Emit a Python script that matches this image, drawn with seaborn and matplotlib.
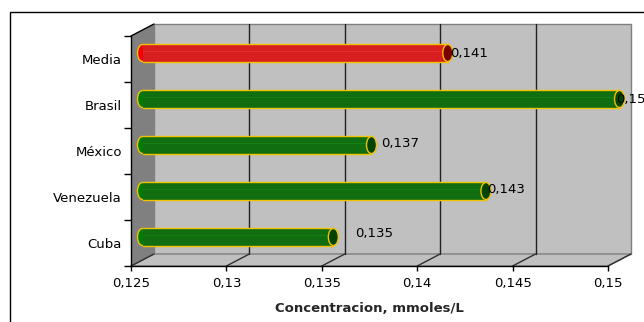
import numpy as np
import pandas as pd
import matplotlib
matplotlib.use("Agg")
import matplotlib.pyplot as plt
from matplotlib.patches import Polygon, Ellipse, Rectangle
import seaborn as sns

# datos
paises = ["Media", "Brasil", "México", "Venezuela", "Cuba"]
concentracion = [0.141, 0.150, 0.137, 0.143, 0.135]
etiquetas = ["0,141", "0,150", "0,137", "0,143", "0,135"]
ticks_x = [0.125, 0.13, 0.135, 0.14, 0.145, 0.15]
ticks_lbl = ["0,125", "0,13", "0,135", "0,14", "0,145", "0,15"]

colores = {"Media": "#f60000", "Brasil": "#007c00", "México": "#007c00",
           "Venezuela": "#007c00", "Cuba": "#007c00"}
tapas = {"Media": "#7a0000", "Brasil": "#004400", "México": "#004400",
         "Venezuela": "#004400", "Cuba": "#004400"}
brillo = {"Media": "#ff3a3a", "Brasil": "#159515", "México": "#159515",
          "Venezuela": "#159515", "Cuba": "#159515"}
# desplazamiento de las etiquetas de valor (px)
nudge_x = [2, -3, 10, 1, 22]
nudge_y = [0, 0, 1, 1, 4]

sns.set_style("ticks")
plt.rcParams["font.family"] = ["DejaVu Sans"]
plt.rcParams["font.size"] = 9.5
plt.rcParams["text.color"] = "black"
plt.rcParams["xtick.color"] = "black"
plt.rcParams["ytick.color"] = "black"

W, H = 644, 322
fig = plt.figure(figsize=(W / 100, H / 100), dpi=100)
ax = fig.add_axes([131 / W, (H - 266) / H, 477 / W, 230 / H])

df = pd.DataFrame({"pais": paises, "valor": concentracion})
sns.barplot(data=df, x="valor", y="pais", hue="pais", palette=colores,
            orient="h", width=0.37, legend=False, ax=ax, zorder=5)
barras = list(ax.patches)

xmin, xmax = ticks_x[0], ticks_x[-1]
ax.set_xlim(xmin, xmax)
ax.set_ylim(len(paises) - 0.5, -0.5)
ytop, ybot = -0.5, len(paises) - 0.5

# unidades de datos por pixel
sx = (xmax - xmin) / 477
sy = len(paises) / 230
dx, dy = 23 * sx, -12 * sy   # fondo
mx, my = dx / 2, dy / 2      # barras a media profundidad

wall = "#c0c0c0"
# pared del fondo
ax.add_patch(Polygon([(xmin + dx, ytop + dy), (xmax + dx, ytop + dy),
                      (xmax + dx, ybot + dy), (xmin + dx, ybot + dy)],
                     closed=True, facecolor=wall, edgecolor="#808080",
                     lw=1, zorder=1, clip_on=False))
# piso
ax.add_patch(Polygon([(xmin, ybot), (xmax, ybot), (xmax + dx, ybot + dy),
                      (xmin + dx, ybot + dy)], closed=True, facecolor=wall,
                     edgecolor="#808080", lw=1, zorder=1, clip_on=False))
# pared izquierda
ax.add_patch(Polygon([(xmin, ytop), (xmin + dx, ytop + dy),
                      (xmin + dx, ybot + dy), (xmin, ybot)], closed=True,
                     facecolor="#808080", edgecolor="none", zorder=1.5,
                     clip_on=False))
ax.plot([xmin, xmin + dx], [ytop, ytop + dy], color="black", lw=1,
        zorder=2, clip_on=False)

# rejilla
for t in ticks_x:
    if xmin < t < xmax:
        ax.plot([t + dx, t + dx], [ytop + dy, ybot + dy], color="#202020",
                lw=1, zorder=2, clip_on=False)
    ax.plot([t, t + dx], [ybot, ybot + dy], color="#303030", lw=1,
            zorder=2, clip_on=False)

# barras cilindricas
gold = "#f2c200"
ew = 10 * sx
for p in barras:
    yc = p.get_y() + p.get_height() / 2
    i = int(round(yc))
    v = concentracion[i]
    name = paises[i]
    h = p.get_height()
    p.set_x(xmin + mx)
    p.set_width(v - xmin)
    p.set_y(yc - h / 2 + my)
    p.set_edgecolor("none")
    p.set_clip_on(False)
    ax.add_patch(Ellipse((xmin + mx, yc + my), ew, h, facecolor=colores[name],
                         edgecolor=gold, lw=1, zorder=4, clip_on=False))
    ax.plot([xmin + mx, v + mx], [yc + my - h / 2] * 2, color=gold, lw=1,
            zorder=6, clip_on=False)
    ax.plot([xmin + mx, v + mx], [yc + my + h / 2] * 2, color=gold, lw=1,
            zorder=6, clip_on=False)
    ax.plot([xmin + mx, v + mx], [yc + my - h * 0.12] * 2, color=brillo[name],
            lw=0.8, alpha=0.5, zorder=5.5, clip_on=False)
    ax.add_patch(Ellipse((v + mx, yc + my), ew, h, facecolor=tapas[name],
                         edgecolor=gold, lw=1, zorder=7, clip_on=False))
    ax.text(v + mx + nudge_x[i] * sx, yc + my - nudge_y[i] * sy, etiquetas[i],
            ha="left", va="center", fontsize=9.5, color="black", zorder=8,
            clip_on=False)

# ejes
ax.patch.set_visible(False)
for s in ["top", "right"]:
    ax.spines[s].set_visible(False)
for s in ["left", "bottom"]:
    ax.spines[s].set_color("black")
    ax.spines[s].set_linewidth(1)
    ax.spines[s].set_zorder(10)

ax.set_xticks(ticks_x, labels=ticks_lbl)
ax.set_yticks(range(len(paises)), labels=paises)
ax.set_yticks(np.arange(-0.5, len(paises)), minor=True)
ax.tick_params(axis="y", which="major", length=0, pad=6.5, labelsize=9.5)
ax.tick_params(axis="y", which="minor", length=5, width=1, color="black",
               direction="out")
ax.tick_params(axis="x", which="major", length=3.6, width=1, color="black",
               direction="out", pad=4.3, labelsize=9.5)
ax.set_ylabel("")
ax.set_xlabel("Concentracion, mmoles/L", fontsize=9.5, fontweight="bold",
              labelpad=8.5)

# marco exterior
fig.add_artist(Rectangle((10 / W, -0.5), 2, 0.5 + (H - 12) / H,
                         transform=fig.transFigure, fill=False,
                         edgecolor="black", lw=1))

fig.savefig("out.png", dpi=100)
